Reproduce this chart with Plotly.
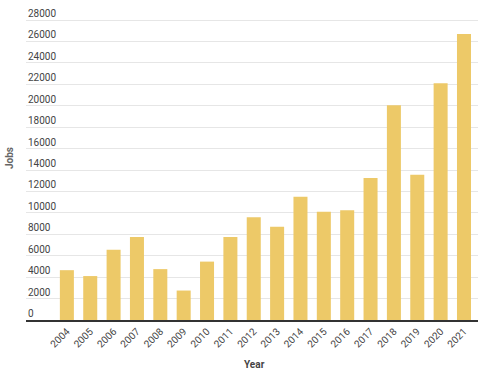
import plotly.graph_objects as go

years = [str(y) for y in range(2004, 2022)]
jobs = [4650, 4100, 6550, 7750, 4750, 2750, 5450, 7750, 9600,
        8700, 11500, 10100, 10250, 13250, 20050, 13550, 22100, 26700]
y_ticks = list(range(0, 28001, 2000))

W, H = 504, 376
L, R, T, B = 26, 26, 5, 56
PW, PH = W - L - R, H - T - B

fig = go.Figure(go.Bar(x=years, y=jobs, marker=dict(color="#EDC968", line=dict(width=0))))

fig.update_layout(
    width=W, height=H,
    margin=dict(l=L, r=R, t=T, b=B, pad=0),
    paper_bgcolor="white", plot_bgcolor="white",
    font=dict(family="Roboto", size=10, color="#444"),
    bargap=0.4,
    showlegend=False,
)
fig.update_xaxes(
    type="category", range=[-1.75, 17.6], automargin=False,
    tickangle=-45, tickfont=dict(size=10, color="#444"),
    showgrid=False, showline=True, linecolor="#333", linewidth=1.5,
    ticks="", ticklen=0,
)
fig.update_yaxes(
    range=[0, 29400], automargin=False,
    tickvals=y_ticks, showticklabels=False,
    showgrid=True, gridcolor="#e6e6e6", gridwidth=1, zeroline=False,
    ticks="", showline=False,
)
for v in y_ticks:
    fig.add_annotation(text=str(v), xref="paper", yref="y", x=0, y=v,
                       xanchor="left", yanchor="bottom", yshift=-1, showarrow=False,
                       font=dict(size=10, color="#444", family="Roboto"))
fig.add_annotation(text="<b>Jobs</b>", xref="paper", yref="paper", x=(9 - L) / PW, y=(320 - 158) / 315,
                   xanchor="center", yanchor="middle", textangle=-90, showarrow=False,
                   font=dict(size=10, color="#666", family="Roboto"))
fig.add_annotation(text="<b>Year</b>", xref="paper", yref="paper", x=(255 - L) / PW, y=-(364 - 320) / 315,
                   xanchor="center", yanchor="middle", showarrow=False,
                   font=dict(size=10, color="#444", family="Roboto"))

fig.write_html("out.html", config={"displayModeBar": False},
               post_script="document.body.style.margin='0';document.body.style.overflow='hidden';")
